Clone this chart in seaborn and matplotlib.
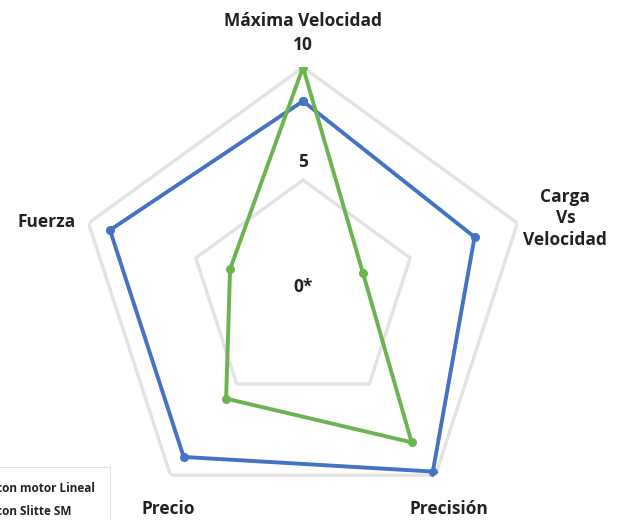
import numpy as np
import pandas as pd
from matplotlib import pyplot as plt
import seaborn as sns

# Values (0-10 scale)
categories = ["Máxima Velocidad", "Carga\nVs\nVelocidad", "Precisión", "Precio", "Fuerza"]
lineal = [8.5, 8.0, 9.8, 9.0, 9.0]
slitte = [10.0, 2.8, 8.2, 5.8, 3.4]
series_names = ["Actuador con motor Lineal", "Actuador con Slitte SM"]
ring_values = [5, 10]
ring_labels = ["0*", "5", "10"]

sns.set_theme(style="white")
plt.rcParams['font.family'] = ['Open Sans', 'DejaVu Sans']

n = len(categories)
theta = np.linspace(0, 2 * np.pi, n, endpoint=False)
theta_closed = np.append(theta, theta[0])

df = pd.DataFrame({
    "theta": np.concatenate([theta_closed, theta_closed]),
    "value": np.concatenate([lineal + lineal[:1], slitte + slitte[:1]]),
    "serie": [series_names[0]] * (n + 1) + [series_names[1]] * (n + 1),
})

fig = plt.figure(figsize=(6.26, 5.2), dpi=100)
ax = fig.add_axes([0.1238, 0.0033, 0.7204, 0.8673], projection="polar")
ax.set_theta_zero_location("N")
ax.set_theta_direction(-1)
ax.set_ylim(0, 10)

# pentagon gridlines
for rv in ring_values:
    ax.plot(theta_closed, [rv] * (n + 1), color="#e3e3e3", lw=2.4, zorder=1)

palette = {series_names[0]: "#4472C4", series_names[1]: "#6BB550"}
for name in series_names:
    sub = df[df["serie"] == name]
    sns.lineplot(data=sub, x="theta", y="value", sort=False, estimator=None,
                 color=palette[name], lw=2.8, marker="o", markersize=6.5,
                 markeredgewidth=0, ax=ax, label=name, zorder=3)

ax.grid(False)
ax.spines["polar"].set_visible(False)
ax.set_xticks([])
ax.set_yticks([])
ax.set_xlabel("")
ax.set_ylabel("")

txt = dict(fontsize=12.5, fontweight="bold", color="#222222", ha="center", va="center")

# scale labels on the top spoke
for lab, r in zip(ring_labels, [0.25, 5.8, 11.0]):
    ax.text(0, r, lab, **txt)

# category labels
label_pos = [(0, 12.05), (74.1, 12.1), (146, 11.57), (211.8, 11.3), (285.4, 11.8)]
for lab, (ang, r) in zip(categories, label_pos):
    ax.text(np.deg2rad(ang), r, lab, linespacing=1.25, **txt)

leg = ax.legend(loc="upper right", bbox_to_anchor=(110 / 626, (520 - 467) / 520),
                bbox_transform=fig.transFigure, frameon=True, fancybox=False,
                prop={"size": 8.5, "weight": "bold"}, labelspacing=0.85,
                borderpad=1.3, borderaxespad=0, handlelength=2)
leg.get_frame().set_edgecolor("#d9d9d9")
leg.get_frame().set_linewidth(0.8)
for t in leg.get_texts():
    t.set_color("#222222")

fig.savefig("out.png", dpi=100)
